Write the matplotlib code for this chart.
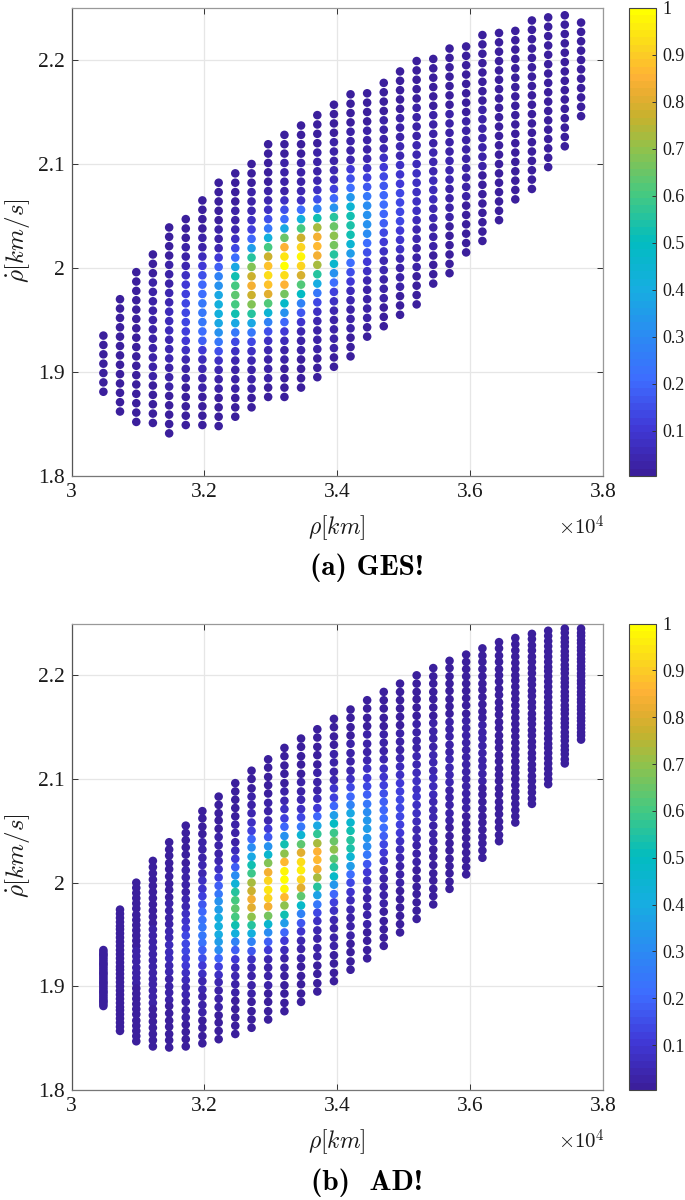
import numpy as np
import matplotlib
matplotlib.use("Agg")
import matplotlib.pyplot as plt
from matplotlib.colors import LinearSegmentedColormap, Normalize
from matplotlib.cm import ScalarMappable

plt.rcParams['font.family'] = ['Liberation Serif', 'DejaVu Serif']
plt.rcParams['mathtext.fontset'] = 'cm'

# range values of the columns, same in both panels
RHO = [30480, 30730, 30975, 31225, 31470, 31720, 31970, 32215, 32465, 32710,
       32960, 33205, 33455, 33700, 33950, 34200, 34450, 34700, 34945, 35195,
       35445, 35690, 35940, 36185, 36435, 36680, 36930, 37175, 37425, 37670]

X_TICKS = [30000, 32000, 34000, 36000, 38000]
X_LABELS = ['3', '3.2', '3.4', '3.6', '3.8']
Y_TICKS = [1.8, 1.9, 2.0, 2.1, 2.2]
Y_LABELS = ['1.8', '1.9', '2', '2.1', '2.2']
CB_TICKS = [0.1, 0.2, 0.3, 0.4, 0.5, 0.6, 0.7, 0.8, 0.9, 1.0]
CB_LABELS = ['0.1', '0.2', '0.3', '0.4', '0.5', '0.6', '0.7', '0.8', '0.9', '1']

# panel (a), rho-dot per column, top to bottom
A_Y = [
    [1.935, 1.926, 1.917, 1.908, 1.899, 1.890, 1.881],
    [1.970, 1.961, 1.952, 1.943, 1.934, 1.925, 1.916, 1.907, 1.898, 1.889, 1.880, 1.871, 1.862],
    [1.996, 1.987, 1.978, 1.969, 1.960, 1.951, 1.942, 1.933, 1.924, 1.915, 1.906, 1.897, 1.888, 1.879, 1.870, 1.861, 1.852],
    [2.013, 2.004, 1.995, 1.986, 1.977, 1.968, 1.959, 1.950, 1.941, 1.932, 1.923, 1.914, 1.905, 1.896, 1.887, 1.878, 1.869, 1.860, 1.851],
    [2.039, 2.030, 2.021, 2.012, 2.003, 1.994, 1.985, 1.976, 1.967, 1.958, 1.949, 1.940, 1.931, 1.922, 1.913, 1.904, 1.895, 1.886, 1.877, 1.868, 1.859, 1.850, 1.841],
    [2.047, 2.038, 2.029, 2.020, 2.011, 2.002, 1.993, 1.984, 1.975, 1.966, 1.957, 1.948, 1.939, 1.930, 1.921, 1.912, 1.903, 1.894, 1.885, 1.876, 1.867, 1.858, 1.849],
    [2.065, 2.056, 2.047, 2.038, 2.029, 2.020, 2.011, 2.002, 1.993, 1.984, 1.975, 1.966, 1.957, 1.948, 1.939, 1.930, 1.921, 1.912, 1.903, 1.894, 1.885, 1.876, 1.867, 1.858, 1.849],
    [2.082, 2.073, 2.064, 2.055, 2.046, 2.037, 2.028, 2.019, 2.010, 2.001, 1.992, 1.983, 1.974, 1.965, 1.956, 1.947, 1.938, 1.929, 1.920, 1.911, 1.902, 1.893, 1.884, 1.875, 1.866, 1.857, 1.848],
    [2.091, 2.082, 2.073, 2.064, 2.055, 2.046, 2.037, 2.028, 2.019, 2.010, 2.001, 1.992, 1.983, 1.974, 1.965, 1.956, 1.947, 1.938, 1.929, 1.920, 1.911, 1.902, 1.893, 1.884, 1.875, 1.866, 1.857],
    [2.100, 2.091, 2.082, 2.073, 2.064, 2.055, 2.046, 2.037, 2.028, 2.019, 2.010, 2.001, 1.992, 1.983, 1.974, 1.965, 1.956, 1.947, 1.938, 1.929, 1.920, 1.911, 1.902, 1.893, 1.884, 1.875, 1.866],
    [2.119, 2.110, 2.101, 2.092, 2.083, 2.074, 2.065, 2.056, 2.047, 2.038, 2.029, 2.020, 2.011, 2.002, 1.993, 1.984, 1.975, 1.966, 1.957, 1.948, 1.939, 1.930, 1.921, 1.912, 1.903, 1.894, 1.885, 1.876],
    [2.128, 2.119, 2.110, 2.101, 2.092, 2.083, 2.074, 2.065, 2.056, 2.047, 2.038, 2.029, 2.020, 2.011, 2.002, 1.993, 1.984, 1.975, 1.966, 1.957, 1.948, 1.939, 1.930, 1.921, 1.912, 1.903, 1.894, 1.885, 1.876],
    [2.137, 2.128, 2.119, 2.110, 2.101, 2.092, 2.083, 2.074, 2.065, 2.056, 2.047, 2.038, 2.029, 2.020, 2.011, 2.002, 1.993, 1.984, 1.975, 1.966, 1.957, 1.948, 1.939, 1.930, 1.921, 1.912, 1.903, 1.894, 1.885],
    [2.147, 2.138, 2.129, 2.120, 2.111, 2.102, 2.093, 2.084, 2.075, 2.066, 2.057, 2.048, 2.039, 2.030, 2.021, 2.012, 2.003, 1.994, 1.985, 1.976, 1.967, 1.958, 1.949, 1.940, 1.931, 1.922, 1.913, 1.904, 1.895],
    [2.157, 2.148, 2.139, 2.130, 2.121, 2.112, 2.103, 2.094, 2.085, 2.076, 2.067, 2.058, 2.049, 2.040, 2.031, 2.022, 2.013, 2.004, 1.995, 1.986, 1.977, 1.968, 1.959, 1.950, 1.941, 1.932, 1.923, 1.914, 1.905],
    [2.167, 2.158, 2.149, 2.140, 2.131, 2.122, 2.113, 2.104, 2.095, 2.086, 2.077, 2.068, 2.059, 2.050, 2.041, 2.032, 2.023, 2.014, 2.005, 1.996, 1.987, 1.978, 1.969, 1.960, 1.951, 1.942, 1.933, 1.924, 1.915],
    [2.168, 2.159, 2.150, 2.141, 2.132, 2.123, 2.114, 2.105, 2.096, 2.087, 2.078, 2.069, 2.060, 2.051, 2.042, 2.033, 2.024, 2.015, 2.006, 1.997, 1.988, 1.979, 1.970, 1.961, 1.952, 1.943, 1.934],
    [2.178, 2.169, 2.160, 2.151, 2.142, 2.133, 2.124, 2.115, 2.106, 2.097, 2.088, 2.079, 2.070, 2.061, 2.052, 2.043, 2.034, 2.025, 2.016, 2.007, 1.998, 1.989, 1.980, 1.971, 1.962, 1.953, 1.944],
    [2.189, 2.180, 2.171, 2.162, 2.153, 2.144, 2.135, 2.126, 2.117, 2.108, 2.099, 2.090, 2.081, 2.072, 2.063, 2.054, 2.045, 2.036, 2.027, 2.018, 2.009, 2.000, 1.991, 1.982, 1.973, 1.964, 1.955],
    [2.199, 2.190, 2.181, 2.172, 2.163, 2.154, 2.145, 2.136, 2.127, 2.118, 2.109, 2.100, 2.091, 2.082, 2.073, 2.064, 2.055, 2.046, 2.037, 2.028, 2.019, 2.010, 2.001, 1.992, 1.983, 1.974, 1.965],
    [2.201, 2.192, 2.183, 2.174, 2.165, 2.156, 2.147, 2.138, 2.129, 2.120, 2.111, 2.102, 2.093, 2.084, 2.075, 2.066, 2.057, 2.048, 2.039, 2.030, 2.021, 2.012, 2.003, 1.994, 1.985],
    [2.211, 2.202, 2.193, 2.184, 2.175, 2.166, 2.157, 2.148, 2.139, 2.130, 2.121, 2.112, 2.103, 2.094, 2.085, 2.076, 2.067, 2.058, 2.049, 2.040, 2.031, 2.022, 2.013, 2.004, 1.995],
    [2.213, 2.204, 2.195, 2.186, 2.177, 2.168, 2.159, 2.150, 2.141, 2.132, 2.123, 2.114, 2.105, 2.096, 2.087, 2.078, 2.069, 2.060, 2.051, 2.042, 2.033, 2.024, 2.015],
    [2.224, 2.215, 2.206, 2.197, 2.188, 2.179, 2.170, 2.161, 2.152, 2.143, 2.134, 2.125, 2.116, 2.107, 2.098, 2.089, 2.080, 2.071, 2.062, 2.053, 2.044, 2.035, 2.026],
    [2.226, 2.217, 2.208, 2.199, 2.190, 2.181, 2.172, 2.163, 2.154, 2.145, 2.136, 2.127, 2.118, 2.109, 2.100, 2.091, 2.082, 2.073, 2.064, 2.055, 2.046],
    [2.228, 2.219, 2.210, 2.201, 2.192, 2.183, 2.174, 2.165, 2.156, 2.147, 2.138, 2.129, 2.120, 2.111, 2.102, 2.093, 2.084, 2.075, 2.066],
    [2.238, 2.229, 2.220, 2.211, 2.202, 2.193, 2.184, 2.175, 2.166, 2.157, 2.148, 2.139, 2.130, 2.121, 2.112, 2.103, 2.094, 2.085, 2.076],
    [2.241, 2.232, 2.223, 2.214, 2.205, 2.196, 2.187, 2.178, 2.169, 2.160, 2.151, 2.142, 2.133, 2.124, 2.115, 2.106, 2.097],
    [2.243, 2.234, 2.225, 2.216, 2.207, 2.198, 2.189, 2.180, 2.171, 2.162, 2.153, 2.144, 2.135, 2.126, 2.117],
    [2.236, 2.227, 2.218, 2.209, 2.200, 2.191, 2.182, 2.173, 2.164, 2.155, 2.146],
]

# panel (a), colour value of each point, same order
A_V = [
    [0.01] * 7,
    [0.01] * 13,
    [0.01] * 17,
    [.01, .01, .01, .02, .02, .02, .03, .03, .03, .03, .03, .02, .02, .02, .01, .01, .01, .01, .01],
    [.01, .01, .01, .01, .02, .02, .03, .04, .05, .06, .06, .06, .05, .05, .04, .03, .02, .02, .01, .01, .01, .01, .01],
    [.01, .01, .01, .02, .03, .05, .08, .10, .12, .14, .14, .14, .12, .10, .07, .04, .03, .02, .01, .01, .01, .01, .01],
    [.01, .01, .01, .01, .02, .03, .06, .10, .15, .20, .22, .24, .25, .24, .22, .18, .10, .06, .04, .03, .02, .01, .01, .01, .01],
    [.01, .01, .01, .01, .01, .02, .03, .05, .10, .18, .27, .33, .38, .42, .42, .38, .33, .25, .15, .08, .05, .03, .02, .01, .01, .01, .01],
    [.01, .01, .01, .01, .02, .02, .04, .07, .13, .22, .38, .53, .60, .63, .60, .53, .38, .25, .13, .08, .05, .03, .02, .02, .01, .01, .01],
    [.01, .01, .01, .02, .03, .05, .07, .12, .20, .35, .55, .68, .78, .83, .78, .68, .55, .38, .24, .13, .07, .04, .03, .02, .02, .01, .01],
    [.01, .01, .01, .01, .01, .03, .05, .08, .15, .25, .42, .60, .78, .88, .93, .88, .80, .62, .45, .28, .15, .08, .05, .03, .02, .02, .01, .01],
    [.01, .01, .01, .02, .02, .02, .03, .07, .15, .22, .38, .65, .85, .95, 1.0, .93, .85, .66, .48, .32, .20, .10, .06, .03, .02, .01, .01, .01, .01],
    [.01, .01, .01, .01, .02, .02, .03, .04, .08, .22, .42, .60, .78, .92, .97, .92, .79, .62, .50, .28, .17, .09, .05, .03, .02, .01, .01, .01, .01],
    [.01, .01, .01, .01, .02, .02, .03, .04, .08, .15, .28, .53, .72, .83, .87, .84, .72, .55, .40, .25, .14, .08, .05, .03, .02, .02, .01, .01, .01],
    [.01, .01, .01, .01, .02, .02, .03, .04, .06, .12, .20, .32, .55, .65, .70, .66, .56, .46, .32, .22, .12, .08, .05, .03, .02, .02, .02, .01, .01],
    [.01, .01, .01, .01, .02, .02, .03, .05, .10, .15, .22, .34, .44, .52, .54, .53, .44, .36, .22, .15, .10, .06, .04, .03, .02, .02, .01, .01, .01],
    [.01, .01, .01, .01, .02, .02, .03, .04, .08, .12, .17, .24, .30, .33, .33, .30, .22, .15, .10, .07, .05, .03, .03, .02, .02, .01, .01],
    [.01, .01, .01, .01, .02, .02, .03, .05, .07, .10, .13, .17, .20, .21, .20, .18, .14, .10, .08, .05, .04, .03, .02, .02, .01, .01, .01],
    [.01, .01, .01, .01, .01, .02, .02, .03, .04, .05, .07, .09, .11, .13, .14, .14, .13, .11, .09, .07, .05, .03, .02, .02, .01, .01, .01],
    [.01, .01, .01, .01, .01, .02, .02, .02, .03, .04, .05, .06, .07, .08, .08, .08, .07, .06, .05, .04, .03, .02, .02, .01, .01, .01, .01],
    [.01, .01, .01, .01, .01, .01, .02, .02, .02, .03, .04, .04, .05, .06, .06, .06, .05, .04, .03, .02, .02, .01, .01, .01, .01],
    [.01, .01, .01, .01, .01, .01, .01, .02, .02, .02, .03, .03, .04, .04, .04, .03, .03, .02, .02, .01, .01, .01, .01, .01, .01],
    [0.01] * 8 + [0.02] * 9 + [0.01] * 6,
    [0.01] * 8 + [0.02] * 7 + [0.01] * 8,
    [0.01] * 21,
    [0.01] * 19,
    [0.01] * 19,
    [0.01] * 17,
    [0.01] * 15,
    [0.01] * 11,
]

# panel (b), 31 points in each column, top to bottom
B_Y = [
    [1.935, 1.933, 1.931, 1.930, 1.928, 1.926, 1.924, 1.922, 1.921, 1.919, 1.917, 1.915, 1.913, 1.912, 1.910, 1.908, 1.906, 1.904, 1.903, 1.901, 1.899, 1.897, 1.895, 1.894, 1.892, 1.890, 1.888, 1.886, 1.885, 1.883, 1.881],
    [1.974, 1.970, 1.966, 1.962, 1.958, 1.955, 1.951, 1.947, 1.943, 1.939, 1.935, 1.931, 1.927, 1.923, 1.919, 1.916, 1.912, 1.908, 1.904, 1.900, 1.896, 1.892, 1.888, 1.884, 1.880, 1.877, 1.873, 1.869, 1.865, 1.861, 1.857],
    [2.000, 1.995, 1.990, 1.985, 1.980, 1.975, 1.969, 1.964, 1.959, 1.954, 1.949, 1.944, 1.939, 1.934, 1.929, 1.924, 1.918, 1.913, 1.908, 1.903, 1.898, 1.893, 1.888, 1.883, 1.878, 1.873, 1.867, 1.862, 1.857, 1.852, 1.847],
    [2.021, 2.015, 2.009, 2.003, 1.997, 1.991, 1.985, 1.979, 1.973, 1.967, 1.961, 1.955, 1.949, 1.943, 1.937, 1.931, 1.925, 1.919, 1.913, 1.907, 1.902, 1.896, 1.890, 1.884, 1.878, 1.872, 1.866, 1.860, 1.854, 1.848, 1.842],
    [2.039, 2.032, 2.026, 2.019, 2.013, 2.006, 1.999, 1.993, 1.986, 1.980, 1.973, 1.966, 1.960, 1.953, 1.947, 1.940, 1.933, 1.927, 1.920, 1.914, 1.907, 1.900, 1.894, 1.887, 1.881, 1.874, 1.867, 1.861, 1.854, 1.848, 1.841],
    [2.055, 2.048, 2.041, 2.034, 2.027, 2.019, 2.012, 2.005, 1.998, 1.991, 1.984, 1.977, 1.970, 1.963, 1.956, 1.949, 1.941, 1.934, 1.927, 1.920, 1.913, 1.906, 1.899, 1.892, 1.885, 1.877, 1.870, 1.863, 1.856, 1.849, 1.842],
    [2.069, 2.062, 2.054, 2.047, 2.039, 2.032, 2.024, 2.017, 2.009, 2.002, 1.994, 1.987, 1.979, 1.972, 1.964, 1.957, 1.949, 1.942, 1.935, 1.927, 1.920, 1.912, 1.905, 1.897, 1.890, 1.882, 1.875, 1.867, 1.860, 1.852, 1.845],
    [2.083, 2.075, 2.067, 2.060, 2.052, 2.044, 2.036, 2.028, 2.021, 2.013, 2.005, 1.997, 1.989, 1.982, 1.974, 1.966, 1.958, 1.950, 1.943, 1.935, 1.927, 1.919, 1.911, 1.904, 1.896, 1.888, 1.880, 1.872, 1.865, 1.857, 1.849],
    [2.096, 2.088, 2.080, 2.072, 2.064, 2.056, 2.048, 2.039, 2.031, 2.023, 2.015, 2.007, 1.999, 1.991, 1.983, 1.975, 1.967, 1.959, 1.951, 1.943, 1.935, 1.926, 1.918, 1.910, 1.902, 1.894, 1.886, 1.878, 1.870, 1.862, 1.854],
    [2.108, 2.100, 2.091, 2.083, 2.075, 2.067, 2.058, 2.050, 2.042, 2.034, 2.025, 2.017, 2.009, 2.000, 1.992, 1.984, 1.976, 1.967, 1.959, 1.951, 1.943, 1.934, 1.926, 1.918, 1.910, 1.901, 1.893, 1.885, 1.876, 1.868, 1.860],
    [2.119, 2.111, 2.102, 2.094, 2.086, 2.077, 2.069, 2.060, 2.052, 2.044, 2.035, 2.027, 2.019, 2.010, 2.002, 1.993, 1.985, 1.977, 1.968, 1.960, 1.952, 1.943, 1.935, 1.926, 1.918, 1.910, 1.901, 1.893, 1.885, 1.876, 1.868],
    [2.130, 2.122, 2.113, 2.105, 2.096, 2.088, 2.079, 2.071, 2.062, 2.054, 2.045, 2.037, 2.028, 2.020, 2.011, 2.003, 1.994, 1.986, 1.978, 1.969, 1.961, 1.952, 1.944, 1.935, 1.927, 1.918, 1.910, 1.901, 1.893, 1.884, 1.876],
    [2.139, 2.131, 2.122, 2.114, 2.105, 2.097, 2.088, 2.080, 2.071, 2.063, 2.054, 2.046, 2.037, 2.029, 2.020, 2.012, 2.003, 1.995, 1.987, 1.978, 1.970, 1.961, 1.953, 1.944, 1.936, 1.927, 1.919, 1.910, 1.902, 1.893, 1.885],
    [2.148, 2.140, 2.131, 2.123, 2.114, 2.106, 2.097, 2.089, 2.081, 2.072, 2.064, 2.055, 2.047, 2.038, 2.030, 2.022, 2.013, 2.005, 1.996, 1.988, 1.979, 1.971, 1.963, 1.954, 1.946, 1.937, 1.929, 1.920, 1.912, 1.903, 1.895],
    [2.158, 2.150, 2.141, 2.133, 2.124, 2.116, 2.107, 2.099, 2.091, 2.082, 2.074, 2.065, 2.057, 2.048, 2.040, 2.032, 2.023, 2.015, 2.006, 1.998, 1.989, 1.981, 1.973, 1.964, 1.956, 1.947, 1.939, 1.930, 1.922, 1.913, 1.905],
    [2.167, 2.159, 2.150, 2.142, 2.134, 2.125, 2.117, 2.108, 2.100, 2.092, 2.083, 2.075, 2.067, 2.058, 2.050, 2.041, 2.033, 2.025, 2.016, 2.008, 2.000, 1.991, 1.983, 1.974, 1.966, 1.958, 1.949, 1.941, 1.933, 1.924, 1.916],
    [2.176, 2.168, 2.159, 2.151, 2.143, 2.134, 2.126, 2.118, 2.110, 2.101, 2.093, 2.085, 2.076, 2.068, 2.060, 2.052, 2.043, 2.035, 2.027, 2.018, 2.010, 2.002, 1.993, 1.985, 1.977, 1.969, 1.960, 1.952, 1.944, 1.935, 1.927],
    [2.184, 2.176, 2.168, 2.159, 2.151, 2.143, 2.135, 2.127, 2.119, 2.110, 2.102, 2.094, 2.086, 2.078, 2.070, 2.062, 2.053, 2.045, 2.037, 2.029, 2.021, 2.012, 2.004, 1.996, 1.988, 1.980, 1.972, 1.963, 1.955, 1.947, 1.939],
    [2.192, 2.184, 2.176, 2.168, 2.160, 2.152, 2.144, 2.136, 2.128, 2.120, 2.112, 2.104, 2.096, 2.088, 2.080, 2.072, 2.064, 2.056, 2.048, 2.040, 2.032, 2.024, 2.016, 2.008, 2.000, 1.992, 1.984, 1.976, 1.968, 1.960, 1.952],
    [2.200, 2.192, 2.184, 2.177, 2.169, 2.161, 2.153, 2.145, 2.137, 2.130, 2.122, 2.114, 2.106, 2.098, 2.090, 2.083, 2.075, 2.067, 2.059, 2.051, 2.043, 2.036, 2.028, 2.020, 2.012, 2.004, 1.996, 1.989, 1.981, 1.973, 1.965],
    [2.207, 2.199, 2.192, 2.184, 2.177, 2.169, 2.161, 2.154, 2.146, 2.139, 2.131, 2.123, 2.116, 2.108, 2.101, 2.093, 2.085, 2.078, 2.070, 2.063, 2.055, 2.047, 2.040, 2.032, 2.025, 2.017, 2.009, 2.002, 1.994, 1.987, 1.979],
    [2.214, 2.207, 2.199, 2.192, 2.185, 2.177, 2.170, 2.163, 2.155, 2.148, 2.141, 2.133, 2.126, 2.119, 2.111, 2.104, 2.097, 2.089, 2.082, 2.075, 2.067, 2.060, 2.053, 2.045, 2.038, 2.031, 2.023, 2.016, 2.009, 2.001, 1.994],
    [2.220, 2.213, 2.206, 2.199, 2.192, 2.185, 2.178, 2.171, 2.163, 2.156, 2.149, 2.142, 2.135, 2.128, 2.121, 2.114, 2.107, 2.100, 2.093, 2.086, 2.079, 2.072, 2.064, 2.057, 2.050, 2.043, 2.036, 2.029, 2.022, 2.015, 2.008],
    [2.226, 2.219, 2.213, 2.206, 2.199, 2.192, 2.186, 2.179, 2.172, 2.165, 2.159, 2.152, 2.145, 2.139, 2.132, 2.125, 2.118, 2.112, 2.105, 2.098, 2.091, 2.085, 2.078, 2.071, 2.064, 2.058, 2.051, 2.044, 2.038, 2.031, 2.024],
    [2.232, 2.226, 2.219, 2.213, 2.206, 2.200, 2.194, 2.187, 2.181, 2.174, 2.168, 2.162, 2.155, 2.149, 2.142, 2.136, 2.130, 2.123, 2.117, 2.110, 2.104, 2.098, 2.091, 2.085, 2.078, 2.072, 2.066, 2.059, 2.053, 2.046, 2.040],
    [2.236, 2.230, 2.224, 2.218, 2.212, 2.206, 2.200, 2.195, 2.189, 2.183, 2.177, 2.171, 2.165, 2.159, 2.153, 2.147, 2.141, 2.135, 2.129, 2.123, 2.117, 2.111, 2.106, 2.100, 2.094, 2.088, 2.082, 2.076, 2.070, 2.064, 2.058],
    [2.240, 2.235, 2.229, 2.224, 2.218, 2.213, 2.207, 2.202, 2.196, 2.191, 2.185, 2.180, 2.174, 2.169, 2.163, 2.158, 2.153, 2.147, 2.142, 2.136, 2.131, 2.125, 2.120, 2.114, 2.109, 2.103, 2.098, 2.092, 2.087, 2.081, 2.076],
    [2.243, 2.238, 2.233, 2.228, 2.223, 2.218, 2.213, 2.208, 2.204, 2.199, 2.194, 2.189, 2.184, 2.179, 2.174, 2.169, 2.164, 2.159, 2.154, 2.149, 2.144, 2.139, 2.134, 2.130, 2.125, 2.120, 2.115, 2.110, 2.105, 2.100, 2.095],
    [2.245, 2.241, 2.236, 2.232, 2.228, 2.223, 2.219, 2.215, 2.210, 2.206, 2.202, 2.197, 2.193, 2.189, 2.184, 2.180, 2.176, 2.171, 2.167, 2.163, 2.158, 2.154, 2.150, 2.145, 2.141, 2.137, 2.132, 2.128, 2.124, 2.119, 2.115],
    [2.245, 2.241, 2.238, 2.234, 2.231, 2.227, 2.224, 2.220, 2.216, 2.213, 2.209, 2.206, 2.202, 2.199, 2.195, 2.192, 2.188, 2.184, 2.181, 2.177, 2.174, 2.170, 2.167, 2.163, 2.159, 2.156, 2.152, 2.149, 2.145, 2.142, 2.138],
]

B_V = [
    [0.01] * 31,
    [0.01] * 31,
    [0.01] * 13 + [0.02] * 7 + [0.01] * 11,
    [0.01] * 11 + [0.02] * 4 + [0.03] * 5 + [0.02] * 4 + [0.01] * 7,
    [.01, .01, .01, .01, .01, .01, .01, .01, .01, .02, .02, .03, .03, .04, .05, .06, .06, .06, .05, .04, .03, .03, .02, .02, .01, .01, .01, .01, .01, .01, .01],
    [.01, .01, .01, .01, .01, .01, .02, .02, .03, .03, .04, .05, .07, .09, .11, .13, .14, .13, .12, .10, .08, .06, .05, .04, .03, .02, .02, .01, .01, .01, .01],
    [.01, .01, .01, .01, .02, .02, .03, .04, .05, .07, .09, .12, .16, .20, .23, .25, .25, .23, .19, .15, .11, .08, .05, .04, .03, .02, .02, .01, .01, .01, .01],
    [.01, .01, .01, .01, .01, .02, .02, .03, .05, .08, .12, .18, .25, .32, .36, .40, .42, .40, .35, .30, .20, .12, .07, .04, .03, .02, .02, .01, .01, .01, .01],
    [.01, .01, .01, .01, .01, .02, .02, .03, .06, .10, .18, .30, .43, .55, .60, .63, .60, .53, .42, .28, .18, .10, .06, .04, .03, .02, .01, .01, .01, .01, .01],
    [.01, .01, .01, .02, .03, .05, .07, .12, .20, .30, .38, .52, .58, .72, .78, .84, .80, .70, .56, .42, .28, .17, .08, .05, .03, .02, .02, .01, .01, .01, .01],
    [.01, .01, .01, .01, .01, .02, .03, .05, .10, .17, .33, .47, .68, .83, .92, .95, .92, .83, .66, .47, .30, .18, .10, .05, .03, .02, .02, .01, .01, .01, .01],
    [.01, .01, .01, .01, .01, .02, .04, .07, .12, .20, .33, .52, .70, .86, .97, 1.0, .97, .86, .70, .52, .35, .20, .10, .06, .03, .02, .01, .01, .01, .01, .01],
    [.01, .01, .01, .01, .01, .02, .03, .04, .07, .13, .24, .45, .63, .80, .93, .96, .92, .80, .64, .48, .28, .16, .09, .05, .03, .02, .01, .01, .01, .01, .01],
    [.01, .01, .01, .01, .01, .02, .02, .03, .06, .10, .20, .38, .57, .72, .85, .87, .84, .72, .55, .37, .24, .13, .08, .05, .03, .02, .02, .01, .01, .01, .01],
    [.01, .01, .01, .01, .02, .02, .03, .05, .09, .12, .20, .35, .50, .58, .65, .69, .64, .56, .48, .34, .20, .12, .08, .05, .03, .02, .02, .01, .01, .01, .01],
    [.01, .01, .01, .01, .02, .02, .03, .05, .08, .13, .20, .28, .38, .47, .53, .56, .54, .44, .36, .22, .14, .09, .06, .04, .03, .02, .02, .01, .01, .01, .01],
    [.01, .01, .01, .01, .02, .02, .03, .05, .07, .10, .13, .18, .25, .30, .34, .35, .34, .30, .24, .16, .11, .07, .05, .03, .03, .02, .02, .01, .01, .01, .01],
    [.01, .01, .01, .01, .01, .02, .02, .03, .05, .07, .09, .12, .15, .18, .20, .22, .21, .18, .14, .10, .07, .05, .03, .03, .02, .02, .01, .01, .01, .01, .01],
    [.01, .01, .01, .01, .01, .01, .02, .02, .03, .05, .06, .08, .10, .12, .13, .14, .14, .12, .10, .08, .06, .04, .03, .02, .02, .01, .01, .01, .01, .01, .01],
    [.01, .01, .01, .01, .01, .01, .02, .02, .03, .03, .04, .05, .06, .07, .08, .09, .08, .07, .06, .05, .04, .03, .02, .02, .01, .01, .01, .01, .01, .01, .01],
    [.01, .01, .01, .01, .01, .01, .01, .02, .02, .03, .03, .04, .05, .05, .06, .06, .06, .05, .04, .04, .03, .02, .02, .01, .01, .01, .01, .01, .01, .01, .01],
    [.01, .01, .01, .01, .01, .01, .01, .01, .02, .02, .03, .03, .03, .04, .04, .04, .04, .03, .03, .02, .02, .02, .01, .01, .01, .01, .01, .01, .01, .01, .01],
    [0.01] * 9 + [0.02] * 4 + [0.03] * 5 + [0.02] * 4 + [0.01] * 9,
    [0.01] * 11 + [0.02] * 9 + [0.01] * 11,
    [0.01] * 31,
    [0.01] * 31,
    [0.01] * 31,
    [0.01] * 31,
    [0.01] * 31,
    [0.01] * 31,
]

# old parula look, with the orange band near 0.85
PARULA = [(0.0, '#3b1f9c'), (0.1, '#4039d8'), (0.2, '#3e6cff'), (0.3, '#2a8cf2'),
          (0.4, '#16aee0'), (0.5, '#02bcc0'), (0.6, '#43c983'), (0.7, '#8fc24c'),
          (0.77, '#c6b22e'), (0.82, '#e8ad30'), (0.86, '#ffb236'), (0.92, '#fbd420'),
          (1.0, '#ffff00')]
cmap = LinearSegmentedColormap.from_list('parula', PARULA, N=64)
norm = Normalize(vmin=0.004, vmax=1.0)

W, H = 685, 1200
fig = plt.figure(figsize=(W / 100, H / 100), dpi=100)


def box(left, top, right, bottom):
    return [left / W, 1 - bottom / H, (right - left) / W, (bottom - top) / H]


def put(x, y, s, **kw):
    fig.text(x / W, 1 - y / H, s, ha='center', va='center', **kw)


def panel(ys, vals, top, bottom, caption, cap_y):
    ax = fig.add_axes(box(71.5, top, 603, bottom))
    xs = np.repeat(RHO, [len(c) for c in ys])
    ax.scatter(xs, np.concatenate(ys), c=np.concatenate(vals), cmap=cmap, norm=norm,
               s=38, linewidths=0, zorder=3)
    ax.set_xlim(30000, 38000)
    ax.set_ylim(1.8, 2.25)
    ax.set_xticks(X_TICKS, X_LABELS)
    ax.set_yticks(Y_TICKS, Y_LABELS)
    ax.grid(True, color='#e6e6e6', linewidth=0.9)
    ax.set_axisbelow(True)
    ax.tick_params(direction='in', length=4, width=0.7, color='#333333', top=True, right=True,
                   labelsize=15.5, labelcolor='#1a1a1a', pad=5)
    ax.spines['left'].set_color('#555555')
    ax.spines['bottom'].set_color('#777777')
    ax.spines['top'].set_color('#999999')
    ax.spines['right'].set_color('#999999')
    for sp in ax.spines.values():
        sp.set_linewidth(0.9)

    put(337, bottom + 52, r'$\rho[km]$', fontsize=17, color='#1a1a1a')
    put(581, bottom + 52, r'$\times10^4$', fontsize=15, color='#1a1a1a')
    put(18, (top + bottom) / 2 - 1, r'$\dot{\rho}[km/s]$', fontsize=18, rotation=90, color='#1a1a1a')
    put(367, cap_y, caption, fontsize=21, family='cmb10', color='black')

    cax = fig.add_axes(box(629, top, 655.5, bottom))
    cb = fig.colorbar(ScalarMappable(norm=norm, cmap=cmap), cax=cax)
    cb.set_ticks(CB_TICKS, labels=CB_LABELS)
    cb.ax.tick_params(direction='in', length=3, width=0.7, color='#333333', labelsize=13, labelcolor='#1a1a1a', pad=5)
    cb.outline.set_edgecolor('#444444')
    cb.outline.set_linewidth(0.8)


panel(A_Y, A_V, 8, 476, '(a) GES!', 568)
panel(B_Y, B_V, 623.5, 1090, '(b)  AD!', 1183)

fig.savefig('out.png', dpi=100)
